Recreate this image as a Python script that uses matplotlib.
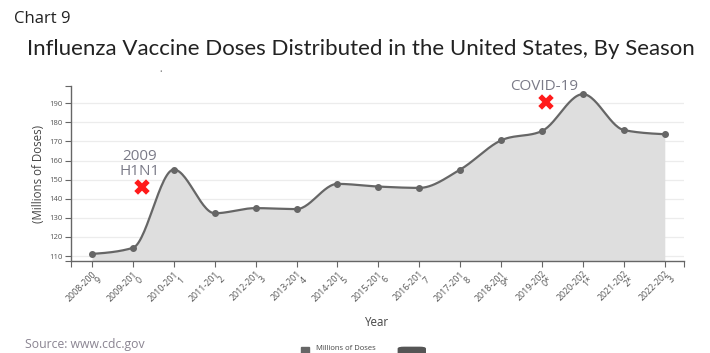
import numpy as np
import matplotlib.pyplot as plt
from matplotlib.patches import FancyBboxPatch, Rectangle

seasons = ['2008-200\n9', '2009-201\n0', '2010-201\n1', '2011-201\n2', '2012-201\n3',
           '2013-201\n4', '2014-201\n5', '2015-201\n6', '2016-201\n7', '2017-201\n8',
           '2018-201\n9*', '2019-202\n0*', '2020-202\n1*', '2021-202\n2*', '2022-202\n3']
doses = [111.1, 114.3, 155.3, 132.4, 135.1, 134.6, 147.8, 146.4, 145.7, 155.3,
         170.6, 175.5, 194.8, 176.0, 173.8]
yticks = [110, 120, 130, 140, 150, 160, 170, 180, 190]

# event markers: (label, x position in season units, y value)
events = [('2009\nH1N1', 1.22, 146.0), ('COVID-19', 11.1, 190.5)]


def monotone(x, y, n=30):
    # monotone cubic curve through the points (like d3.curveMonotoneX)
    x = np.asarray(x, float)
    y = np.asarray(y, float)
    h = np.diff(x)
    s = np.diff(y) / h
    m = np.zeros_like(y)
    for i in range(1, len(y) - 1):
        if s[i-1] * s[i] <= 0:
            m[i] = 0
        else:
            p = (s[i-1] * h[i] + s[i] * h[i-1]) / (h[i-1] + h[i])
            m[i] = (np.sign(s[i-1]) + np.sign(s[i])) * min(abs(s[i-1]), abs(s[i]), 0.5 * abs(p))
    m[0] = (3 * s[0] - m[1]) / 2 if len(y) > 2 else s[0]
    m[-1] = (3 * s[-1] - m[-2]) / 2
    xs, ys = [], []
    t = np.linspace(0, 1, n)
    for i in range(len(y) - 1):
        h00 = 2*t**3 - 3*t**2 + 1
        h10 = t**3 - 2*t**2 + t
        h01 = -2*t**3 + 3*t**2
        h11 = t**3 - t**2
        xs.append(x[i] + t * h[i])
        ys.append(h00*y[i] + h10*h[i]*m[i] + h01*y[i+1] + h11*h[i]*m[i+1])
    return np.concatenate(xs), np.concatenate(ys)


plt.rcParams['font.family'] = ['Open Sans', 'DejaVu Sans']

fig = plt.figure(figsize=(7.1, 3.53), dpi=100)
ax = fig.add_axes([0.1, 0.2606, 0.8634, 0.4954])

xi = np.arange(len(doses))
cx, cy = monotone(xi, doses)
ymin, ymax = 107.4, 199.0
ax.fill_between(cx, cy, ymin, color='#dedede', lw=0, zorder=2)
ax.plot(cx, cy, color='#666666', lw=1.6, zorder=3)
ax.plot(xi, doses, 'o', color='#666666', ms=4, zorder=4)

ax.set_xlim(-0.513, 14.47)
ax.set_ylim(ymin, ymax)

for v in yticks:
    ax.axhline(v, color='#ececec', lw=0.9, zorder=1)

ax.set_yticks(yticks)
ax.set_yticklabels([str(v) for v in yticks], fontsize=5.5, color='#555555')
ax.set_xticks(xi)
ax.set_xticklabels(seasons, fontsize=6.4, color='#555555', rotation=45,
                   ha='right', rotation_mode='anchor', multialignment='right',
                   linespacing=0.85)
ax.tick_params(axis='both', length=4, width=0.8, color='#666666', pad=2)
ax.set_yticks([ymin, ymax], minor=True)
ax.set_xticks([-0.513, 14.47], minor=True)
ax.tick_params(which='minor', length=4, width=0.8, color='#666666')

for s in ['top', 'right']:
    ax.spines[s].set_visible(False)
for s in ['left', 'bottom']:
    ax.spines[s].set_color('#666666')
    ax.spines[s].set_linewidth(1.0)

ax.set_ylabel('(Millions of Doses)', fontsize=8.3, color='#444444', labelpad=3)
ax.set_xlabel('Year', fontsize=8.3, color='#444444', labelpad=5)

for label, ex, ey in events:
    ax.plot(ex, ey, marker='X', color='#ff1a1a', ms=11, mec='white', mew=0.3,
            zorder=5, clip_on=False)
    ax.text(ex - 0.05, ey + 4.5, label, fontsize=11, color='#7b7b88',
            ha='center', va='bottom', linespacing=1.0, zorder=5)

fig.text(0.02, 0.945, 'Chart 9', fontsize=12, color='#222222', va='center')
fig.text(0.038, 0.862, 'Influenza Vaccine Doses Distributed in the United States, By Season',
         fontsize=16, color='#222222', va='center', family=['Lato', 'DejaVu Sans'])
fig.text(0.227, 0.796, '•', fontsize=5, color='#888888', ha='center', va='center')

fig.text(0.035, 0.025, 'Source: www.cdc.gov', fontsize=8.8, color='#8a8491', va='center')
fig.patches.append(Rectangle((0.424, 0.0), 0.011, 0.018, transform=fig.transFigure,
                             color='#666666', figure=fig))
fig.text(0.445, 0.003, 'Millions of Doses', fontsize=5.5, color='#444444', va='bottom')
fig.patches.append(FancyBboxPatch((0.561, -0.01), 0.038, 0.026,
                                  boxstyle='round,pad=0,rounding_size=0.008',
                                  transform=fig.transFigure, color='#555555',
                                  figure=fig, mutation_aspect=0.5))

fig.savefig('out.png', dpi=100)
